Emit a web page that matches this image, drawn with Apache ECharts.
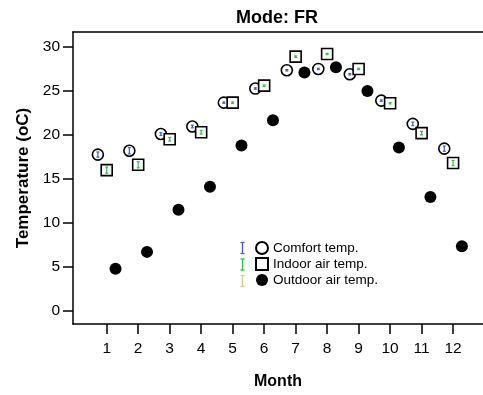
<!DOCTYPE html>
<html><head><meta charset="utf-8">
<script src="https://cdn.jsdelivr.net/npm/echarts@6/dist/echarts.min.js"></script>
<style>html,body{margin:0;padding:0;background:#fff}#c{width:483px;height:395px}</style>
</head><body><div id="c"></div>
<script>
const months = [1,2,3,4,5,6,7,8,9,10,11,12];
const yTicks = [0,5,10,15,20,25,30];
const comfort = [17.76,18.2,20.1,20.95,23.67,25.27,27.35,27.5,26.9,23.9,21.25,18.44];
const indoor  = [15.99,16.6,19.5,20.3,23.67,25.6,28.9,29.2,27.5,23.6,20.2,16.8];
const outdoor = [4.77,6.7,11.5,14.1,18.8,21.67,27.1,27.7,25.0,18.56,12.95,7.35];
const comfortErr = [0.3,0.35,0.15,0.15,0.08,0.08,0.08,0.08,0.08,0.08,0.2,0.3];
const indoorErr  = [0.35,0.35,0.2,0.2,0.08,0.08,0.08,0.08,0.08,0.08,0.2,0.3];
const outdoorErr = [0.3,0.3,0.3,0.3,0.3,0.3,0.3,0.3,0.3,0.3,0.3,0.3];
const seriesNames = ['Comfort temp.','Indoor air temp.','Outdoor air temp.'];
const errColors = ['#3f5fcf','#2bc23f','#d8cb91'];
const offsets = [-0.28, 0, 0.28];

const FONT = 'Liberation Sans, Arial, sans-serif';
const vals = [comfort, indoor, outdoor];
const errs = [comfortErr, indoorErr, outdoorErr];

function pts(i){ return months.map((m,k)=>[m+offsets[i], vals[i][k]]); }
function errData(i){ return months.map((m,k)=>[m+offsets[i], vals[i][k]-errs[i][k], vals[i][k]+errs[i][k]]); }
function errSeries(i){
  return {
    type:'custom', xAxisIndex:0, yAxisIndex:0, z: 5, silent:true,
    data: errData(i),
    renderItem: function(params, api){
      const x = api.value(0);
      const lo = api.coord([x, api.value(1)]);
      const hi = api.coord([x, api.value(2)]);
      const st = {stroke: errColors[i], lineWidth: 1.2};
      return {type:'group', children:[
        {type:'line', shape:{x1:lo[0],y1:lo[1],x2:hi[0],y2:hi[1]}, style:st},
        {type:'line', shape:{x1:lo[0]-1.5,y1:lo[1],x2:lo[0]+1.5,y2:lo[1]}, style:st},
        {type:'line', shape:{x1:hi[0]-1.5,y1:hi[1],x2:hi[0]+1.5,y2:hi[1]}, style:st}
      ]};
    }
  };
}

const chart = echarts.init(document.getElementById('c'), null, {renderer:'canvas'});
const option = {
  animation:false,
  backgroundColor:'#fff',
  textStyle:{fontFamily:FONT},
  title:{text:'Mode: FR', left:272, top:4, textAlign:'center',
    textStyle:{fontFamily:FONT, fontSize:18, fontWeight:'bold', color:'#000'}},
  grid:{left:73, right:0, top:32, bottom:71},
  legend:{
    orient:'vertical', left:250, top:236, itemWidth:12, itemHeight:12, itemGap:2,
    data: seriesNames,
    textStyle:{fontFamily:FONT, fontSize:13.5, color:'#000'}
  },
  xAxis:[{
    type:'value', min:-0.07, max:12.95,
    name:'Month', nameLocation:'middle', nameGap:50,
    nameTextStyle:{fontFamily:FONT, fontSize:16, fontWeight:'bold', color:'#000'},
    axisLine:{show:true, onZero:false, lineStyle:{color:'#000', width:1.5}},
    axisTick:{show:true, customValues:months, length:10, lineStyle:{color:'#000', width:1.5}},
    axisLabel:{customValues:months, fontSize:15.5, color:'#000', margin:17, fontFamily:FONT},
    splitLine:{show:false}
  },{
    type:'value', position:'top', min:-0.07, max:12.95,
    axisLine:{show:true, onZero:false, lineStyle:{color:'#000', width:1.5}},
    axisTick:{show:false}, axisLabel:{show:false}, splitLine:{show:false}
  }],
  yAxis:{
    type:'value', min:-1.5, max:31.7,
    name:'Temperature (oC)', nameLocation:'middle', nameGap:41, nameRotate:90,
    nameTextStyle:{fontFamily:FONT, fontSize:17, fontWeight:'bold', color:'#000'},
    axisLine:{show:true, onZero:false, lineStyle:{color:'#000', width:1.5}},
    axisTick:{show:true, customValues:yTicks, length:10, lineStyle:{color:'#000', width:1.5}},
    axisLabel:{customValues:yTicks, fontSize:15.5, color:'#000', margin:13, fontFamily:FONT},
    splitLine:{show:false}
  },
  graphic:[0,1,2].map(i=>({
    type:'group', left:238, top:240 + i*16.5, children:[
      {type:'line', shape:{x1:2,y1:0,x2:2,y2:11}, style:{stroke:errColors[i], lineWidth:1.3}},
      {type:'line', shape:{x1:0,y1:0,x2:4,y2:0}, style:{stroke:errColors[i], lineWidth:1.3}},
      {type:'line', shape:{x1:0,y1:11,x2:4,y2:11}, style:{stroke:errColors[i], lineWidth:1.3}}
    ]
  })),
  series:[
    {name:seriesNames[0], type:'scatter', symbol:'circle', symbolSize:11, z:3,
     itemStyle:{color:'#fff', borderColor:'#000', borderWidth:1.6, opacity:1}, data:pts(0)},
    {name:seriesNames[1], type:'scatter', symbol:'rect', symbolSize:11, z:3,
     itemStyle:{color:'#fff', borderColor:'#000', borderWidth:1.6, opacity:1}, data:pts(1)},
    {name:seriesNames[2], type:'scatter', symbol:'circle', symbolSize:12, z:3,
     itemStyle:{color:'#000', borderColor:'#000', borderWidth:0, opacity:1}, data:pts(2)},
    errSeries(0), errSeries(1)
  ]
};
chart.setOption(option);
</script></body></html>
